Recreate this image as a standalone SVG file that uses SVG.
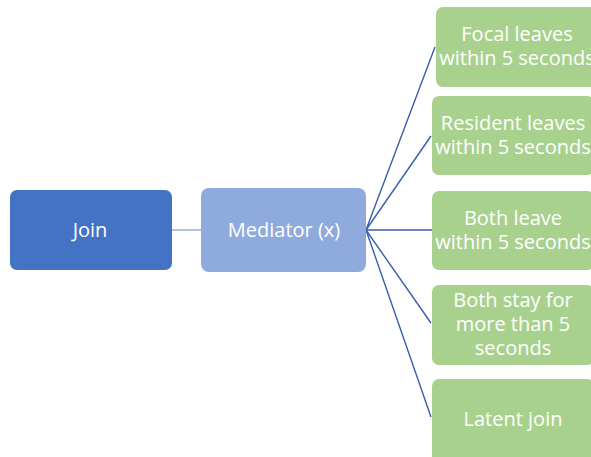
<svg xmlns="http://www.w3.org/2000/svg" width="591" height="457" viewBox="0 0 591 457">
<style>
.t{font-family:"Open Sans","Noto Sans",sans-serif;font-size:20px;fill:#fff;text-anchor:middle}
.g{fill:#A9D18E}
.c{stroke:#3A5DAE;stroke-width:1.4;fill:none}
</style>
<rect width="591" height="457" fill="#fff"/>
<g id="connectors">
<line x1="172" y1="230" x2="201" y2="230" stroke="#8FAADC" stroke-width="1.4"/>
<path class="c" d="M366 230L435 47M366 230L431 136M366 230L432 230M366 230L431 323M366 230L431 417"/>
</g>
<g id="join"><rect x="10" y="190" width="162" height="80" rx="7" fill="#4472C4"/><text class="t" x="90" y="237">Join</text></g>
<g id="mediator"><rect x="201" y="188" width="165" height="84" rx="8" fill="#8FAADC"/><text class="t" x="284" y="237">Mediator (x)</text></g>
<g id="n1"><rect class="g" x="436" y="7" width="162" height="80" rx="7"/><text class="t" x="517" y="41">Focal leaves</text><text class="t" x="517" y="65">within 5 seconds</text></g>
<g id="n2"><rect class="g" x="432" y="96" width="162" height="79" rx="7"/><text class="t" x="513" y="130">Resident leaves</text><text class="t" x="513" y="154">within 5 seconds</text></g>
<g id="n3"><rect class="g" x="432" y="191" width="162" height="79" rx="7"/><text class="t" x="513" y="225">Both leave</text><text class="t" x="513" y="249">within 5 seconds</text></g>
<g id="n4"><rect class="g" x="432" y="285" width="162" height="80" rx="7"/><text class="t" x="513" y="307">Both stay for</text><text class="t" x="513" y="331">more than 5</text><text class="t" x="513" y="355">seconds</text></g>
<g id="n5"><rect class="g" x="432" y="379" width="162" height="85" rx="7"/><text class="t" x="513" y="426">Latent join</text></g>
</svg>
